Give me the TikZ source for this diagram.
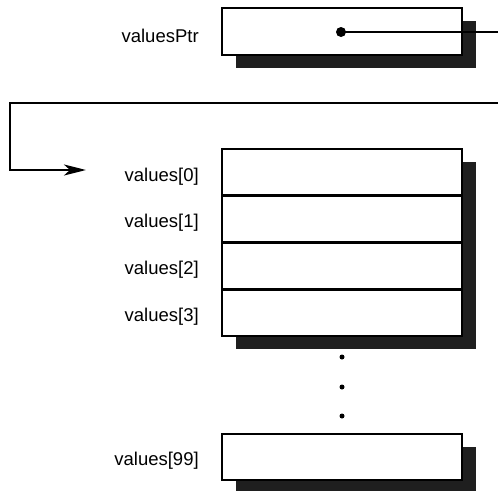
\documentclass[tikz,border=0pt]{standalone}
\usepackage{fontspec}
\setmainfont{Liberation Sans}
\usetikzlibrary{arrows.meta,positioning,calc,backgrounds}

\begin{document}
\begin{tikzpicture}[x=1pt, y=-1pt, line width=2.6pt,
    cell/.style={draw, fill=white, minimum width=240pt, minimum height=46.75pt,
                 inner sep=0pt, outer sep=0pt},
    lbl/.style={font=\fontsize{18.5}{22}\selectfont, inner sep=0pt, anchor=east},
    shadowbox/.style={fill=black!88, draw=none},
    link/.style={line width=2.4pt},
    dotmark/.style={circle, fill=black, inner sep=0pt, minimum size=#1}]

    \useasboundingbox (0,0) rectangle (498,490);
    \clip (0,0) rectangle (498,490);

    \def\shx{14}
    \def\shy{13}

    % pointer variable
    \node[cell, minimum height=47pt] (ptr) at (342,31.5) {};
    \node[lbl, left=22pt of ptr, yshift=-4pt] (ptrlabel) {valuesPtr};
    \node[dotmark=10pt] (ptrdot) at (341,32) {};

    % array cells
    \node[cell] (cell0) at (342,172.4) {};
    \node[cell, below=0pt of cell0] (cell1) {};
    \node[cell, below=0pt of cell1] (cell2) {};
    \node[cell, below=0pt of cell2] (cell3) {};
    \node[cell, minimum height=46pt] (cell99) at (342,457) {};

    \foreach \i in {0,1,2,3,99}
        \node[lbl, left=22pt of cell\i, yshift=-4pt] (label\i) {values[\i]};

    \foreach \y [count=\k] in {357,387,416}
        \node[dotmark=5pt] (gap\k) at (342,\y) {};

    \begin{pgfonlayer}{background}
        \fill[shadowbox] ($(ptr.north west)+(\shx,\shy)$) rectangle ($(ptr.south east)+(\shx,\shy)$);
        \fill[shadowbox] ($(cell0.north west)+(\shx,\shy)$) rectangle ($(cell3.south east)+(\shx,\shy)$);
        \fill[shadowbox] ($(cell99.north west)+(\shx,\shy)$) rectangle ($(cell99.south east)+(\shx,\shy)$);
    \end{pgfonlayer}

    % pointer connector, leaves the picture on the right
    \coordinate (outA) at (504,32);
    \coordinate (outB) at (504,103);
    \coordinate (bend) at (10,103);
    \coordinate (tip) at (86,170);
    \draw[link, -{Stealth[length=22pt, width=11pt, inset=6pt]}]
        (ptrdot.center) -- (outA) -- (outB) -- (bend) |- (tip);

\end{tikzpicture}
\end{document}
